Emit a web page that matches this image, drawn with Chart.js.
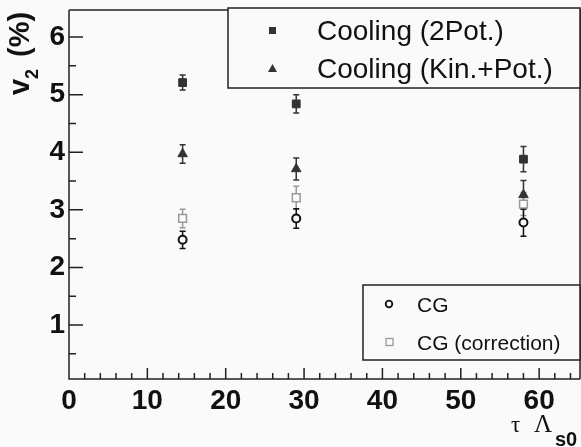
<!DOCTYPE html>
<html>
<head>
<meta charset="utf-8">
<script src="https://cdn.jsdelivr.net/npm/chart.js@4"></script>
<style>
  html, body { margin: 0; padding: 0; background: #fafafa; }
  #wrap { width: 581px; height: 447px; }
</style>
</head>
<body>
<div id="wrap"><canvas id="myChart" width="581" height="447"></canvas></div>
<script>
// datos
var tau = [14.5, 29, 58];
var cool2Pot = [5.21, 4.84, 3.88];
var cool2PotErr = [0.13, 0.16, 0.22];
var coolKinPot = [3.97, 3.71, 3.26];
var coolKinPotErr = [0.16, 0.19, 0.25];
var cgCorr = [2.85, 3.21, 3.10];
var cgCorrErr = [0.16, 0.2, 0.2];
var cg = [2.48, 2.85, 2.78];
var cgErr = [0.15, 0.17, 0.24];

var xTicks = [0, 10, 20, 30, 40, 50, 60];
var yTicks = [1, 2, 3, 4, 5, 6];

var legendTop = ["Cooling (2Pot.)", "Cooling (Kin.+Pot.)"];
var legendBottom = ["CG", "CG (correction)"];

function puntos(vals) {
  return vals.map(function (v, i) { return { x: tau[i], y: v }; });
}

var series = [
  { label: legendTop[0], vals: cool2Pot, err: cool2PotErr, style: "rect", r: 5.5, fill: "#333", line: "#333", bw: 1 },
  { label: legendTop[1], vals: coolKinPot, err: coolKinPotErr, style: "triangle", r: 5.5, fill: "#333", line: "#333", bw: 1 },
  { label: legendBottom[1], vals: cgCorr, err: cgCorrErr, style: "rect", r: 5.5, fill: "#fafafa", line: "#999", bw: 1.5 },
  { label: legendBottom[0], vals: cg, err: cgErr, style: "circle", r: 4, fill: "#fafafa", line: "#111", bw: 2 }
];

//! barras de error
var errorBars = {
  id: "errorBars",
  beforeDatasetsDraw: function (chart) {
    var ctx = chart.ctx;
    var xs = chart.scales.x, ys = chart.scales.y;
    series.forEach(function (s) {
      ctx.save();
      ctx.strokeStyle = s.line;
      ctx.lineWidth = 1.5;
      s.vals.forEach(function (v, i) {
        var px = xs.getPixelForValue(tau[i]);
        var y1 = ys.getPixelForValue(v - s.err[i]);
        var y2 = ys.getPixelForValue(v + s.err[i]);
        ctx.beginPath();
        ctx.moveTo(px, y1); ctx.lineTo(px, y2);
        ctx.moveTo(px - 3, y1); ctx.lineTo(px + 3, y1);
        ctx.moveTo(px - 3, y2); ctx.lineTo(px + 3, y2);
        ctx.stroke();
      });
      ctx.restore();
    });
  }
};

//! marco, ticks hacia dentro, titulos y leyendas
var marco = {
  id: "marco",
  afterDraw: function (chart) {
    var ctx = chart.ctx;
    var a = chart.chartArea;
    var xs = chart.scales.x, ys = chart.scales.y;
    var borde = chart.width - 1;
    ctx.save();
    ctx.strokeStyle = "#222";
    ctx.lineWidth = 1.5;
    ctx.beginPath();
    ctx.moveTo(a.left, a.top); ctx.lineTo(a.left, a.bottom); ctx.lineTo(borde, a.bottom);
    ctx.moveTo(a.left, a.top); ctx.lineTo(borde, a.top); ctx.lineTo(borde, a.bottom);
    // ticks eje y
    for (var v = 0.5; v <= 6.4; v += 0.5) {
      var py = ys.getPixelForValue(v);
      var len = (v % 1 === 0) ? 14 : 7;
      ctx.moveTo(a.left, py); ctx.lineTo(a.left + len, py);
    }
    // ticks eje x
    for (var t = 2; t <= 64; t += 2) {
      var px = xs.getPixelForValue(t);
      var l2 = (t % 10 === 0) ? 11 : 6;
      ctx.moveTo(px, a.bottom); ctx.lineTo(px, a.bottom - l2);
    }
    ctx.stroke();

    // leyenda de arriba
    ctx.fillStyle = "#fafafa";
    ctx.fillRect(228, 8, 352, 80);
    ctx.strokeRect(228, 8, 352, 80);
    ctx.fillStyle = "#333";
    ctx.fillRect(269, 27, 7, 7);
    ctx.beginPath();
    ctx.moveTo(272.5, 64); ctx.lineTo(277, 72); ctx.lineTo(268, 72); ctx.closePath();
    ctx.fill();
    ctx.fillStyle = "#111";
    ctx.font = "28px 'Liberation Sans', Arial, sans-serif";
    ctx.textBaseline = "alphabetic";
    ctx.textAlign = "left";
    ctx.fillText(legendTop[0], 317, 40);
    ctx.fillText(legendTop[1], 317, 78);

    // leyenda de abajo
    ctx.fillStyle = "#fafafa";
    ctx.fillRect(363, 285, 217, 75);
    ctx.strokeRect(363, 285, 217, 75);
    ctx.strokeStyle = "#111";
    ctx.lineWidth = 1.8;
    ctx.beginPath();
    ctx.arc(389, 304, 3.3, 0, Math.PI * 2);
    ctx.stroke();
    ctx.strokeStyle = "#999";
    ctx.lineWidth = 1.3;
    ctx.strokeRect(386, 338.5, 7, 7);
    ctx.fillStyle = "#111";
    ctx.font = "21px 'Liberation Sans', Arial, sans-serif";
    ctx.fillText(legendBottom[0], 417, 312);
    ctx.fillText(legendBottom[1], 417, 350);

    // titulo eje y
    ctx.save();
    ctx.translate(29, 95);
    ctx.rotate(-Math.PI / 2);
    ctx.fillStyle = "#111";
    ctx.font = "bold 29px 'Liberation Sans', Arial, sans-serif";
    ctx.fillText("v", 0, 0);
    ctx.font = "bold 18px 'Liberation Sans', Arial, sans-serif";
    ctx.fillText("2", 16, 9);
    ctx.font = "bold 29px 'Liberation Sans', Arial, sans-serif";
    ctx.fillText("(%)", 38, 0);
    ctx.restore();

    // titulo eje x
    ctx.fillStyle = "#111";
    ctx.font = "23px 'Liberation Serif', 'Times New Roman', serif";
    ctx.fillText("\u03c4", 511, 432);
    ctx.font = "25px 'Liberation Serif', 'Times New Roman', serif";
    ctx.fillText("\u039b", 534, 432);
    ctx.font = "bold 20px 'Liberation Sans', Arial, sans-serif";
    ctx.fillText("s0", 555, 446);
    ctx.restore();
  }
};

var config = {
  type: "scatter",
  data: {
    datasets: series.map(function (s) {
      return {
        label: s.label,
        data: puntos(s.vals),
        pointStyle: s.style,
        pointRadius: s.r,
        pointHoverRadius: s.r,
        backgroundColor: s.fill,
        borderColor: s.line,
        borderWidth: s.bw
      };
    })
  },
  options: {
    responsive: false,
    animation: false,
    layout: { padding: { top: 10, right: 1, left: 0, bottom: 0 } },
    plugins: { legend: { display: false }, tooltip: { enabled: false } },
    scales: {
      x: {
        type: "linear",
        min: 0,
        max: 64.45,
        afterFit: function (s) { s.height = 68; s.paddingLeft = 0; s.paddingRight = 0; },
        afterBuildTicks: function (s) { s.ticks = xTicks.map(function (v) { return { value: v }; }); },
        grid: { display: true, drawOnChartArea: false, drawTicks: true, tickLength: 5, color: "rgba(0,0,0,0)" },
        border: { display: false },
        ticks: {
          padding: 0,
          color: "#111",
          font: { family: "'Liberation Sans', Arial, sans-serif", size: 28, weight: "bold" },
          maxRotation: 0
        }
      },
      y: {
        type: "linear",
        min: 0.0625,
        max: 6.47,
        afterFit: function (s) { s.width = 69; s.paddingTop = 0; s.paddingBottom = 0; },
        afterBuildTicks: function (s) { s.ticks = yTicks.map(function (v) { return { value: v }; }); },
        grid: { display: false, drawTicks: false },
        border: { display: false },
        ticks: {
          padding: 4,
          color: "#111",
          font: { family: "'Liberation Sans', Arial, sans-serif", size: 28, weight: "bold" }
        }
      }
    }
  },
  plugins: [errorBars, marco]
};

var myChart = new Chart(document.getElementById("myChart"), config);
</script>
</body>
</html>
